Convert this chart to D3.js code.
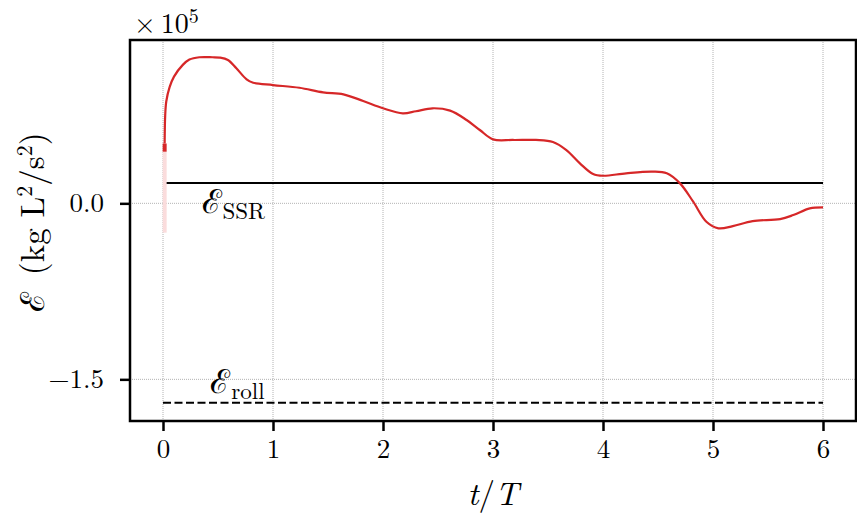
<!DOCTYPE html>
<html>
<head>
<meta charset="utf-8">
<script src="https://cdn.jsdelivr.net/npm/d3@7"></script>
<style>
  body { margin: 0; background: #fff; }
  #chart { width: 857px; height: 522px; }
  text { font-family: 'Latin Modern Roman', 'CMU Serif', 'Liberation Serif', serif; fill: #000; }
</style>
</head>
<body>
<div id="chart"></div>
<script>
// energy E (x1e5) against t/T
var tValues = [0.015, 0.02, 0.03, 0.06, 0.10, 0.18, 0.24, 0.33, 0.45, 0.515, 0.59, 0.667, 0.76, 0.82, 1.0, 1.24, 1.455,
  1.64, 1.82, 2.0, 2.18, 2.3, 2.45, 2.61, 2.76, 2.88, 3.0, 3.18, 3.39, 3.545, 3.667, 3.79, 3.91, 4.0, 4.21, 4.45,
  4.58, 4.70, 4.82, 4.94, 5.05, 5.18, 5.36, 5.61, 5.73, 5.88, 6.0];
var energyValues = [0.51, 0.75, 0.87, 0.99, 1.08, 1.18, 1.225, 1.245, 1.245, 1.242, 1.222, 1.151, 1.057, 1.028, 1.008,
  0.985, 0.946, 0.929, 0.872, 0.81, 0.767, 0.785, 0.81, 0.79, 0.71, 0.625, 0.545, 0.54, 0.54, 0.523, 0.454, 0.341,
  0.25, 0.235, 0.256, 0.27, 0.256, 0.17, 0.014, -0.157, -0.213, -0.194, -0.151, -0.134, -0.1, -0.043, -0.034];

// fast oscillation right at t=0 (drawn as a faint band)
var transientT = 0.015;
var transientRange = [-0.25, 0.44];
var transientTop = [0.44, 0.51];

var eSSR = 0.173;
var eRoll = -1.70;
var tRange = [0, 6];

var xTicks = [0, 1, 2, 3, 4, 5, 6];
var yTicks = [0.0, -1.5];

(function() {
  var width = 857, height = 522;
  var left = 130, right = 856, top = 40, bottom = 421;

  var xScale = d3.scaleLinear().domain([-0.3, 6.3]).range([left, right]);
  var yScale = d3.scaleLinear().domain([-1.855, 1.392]).range([bottom, top]);

  var svg = d3.select('#chart').append('svg')
    .attr('width', width)
    .attr('height', height);

  // grid
  var grid = svg.append('g');
  grid.selectAll('line.gx')
    .data(xTicks)
    .enter()
    .append('line')
    .attr('x1', function(d) {return xScale(d)})
    .attr('x2', function(d) {return xScale(d)})
    .attr('y1', top)
    .attr('y2', bottom)
    .attr('stroke', '#a0a0a0')
    .attr('stroke-width', 0.8)
    .attr('stroke-dasharray', '1,1');
  grid.selectAll('line.gy')
    .data(yTicks)
    .enter()
    .append('line')
    .attr('y1', function(d) {return yScale(d)})
    .attr('y2', function(d) {return yScale(d)})
    .attr('x1', left)
    .attr('x2', right)
    .attr('stroke', '#a0a0a0')
    .attr('stroke-width', 0.8)
    .attr('stroke-dasharray', '1,1');

  // reference levels
  svg.append('line')
    .attr('x1', xScale(tRange[0])).attr('x2', xScale(tRange[1]))
    .attr('y1', yScale(eSSR)).attr('y2', yScale(eSSR))
    .attr('stroke', '#000').attr('stroke-width', 2);
  svg.append('line')
    .attr('x1', xScale(tRange[0])).attr('x2', xScale(tRange[1]))
    .attr('y1', yScale(eRoll)).attr('y2', yScale(eRoll))
    .attr('stroke', '#000').attr('stroke-width', 2)
    .attr('stroke-dasharray', '8,3.5');

  // transient band at t=0
  svg.append('line')
    .attr('x1', xScale(transientT)).attr('x2', xScale(transientT))
    .attr('y1', yScale(transientRange[0])).attr('y2', yScale(transientRange[1]))
    .attr('stroke', '#fadcdc').attr('stroke-width', 4);
  svg.append('line')
    .attr('x1', xScale(transientT)).attr('x2', xScale(transientT))
    .attr('y1', yScale(transientTop[0])).attr('y2', yScale(transientTop[1]))
    .attr('stroke', '#d62728').attr('stroke-width', 4);

  var line = d3.line()
    .x(function(d) {return xScale(d[0])})
    .y(function(d) {return yScale(d[1])})
    .curve(d3.curveCatmullRom.alpha(0.5));

  svg.append('path')
    .datum(tValues.map(function(t, i) {return [t, energyValues[i]]}))
    .attr('d', line)
    .attr('fill', 'none')
    .attr('stroke', '#d62728')
    .attr('stroke-width', 2.2)
    .attr('stroke-linejoin', 'round');

  // annotations
  var ssr = svg.append('text')
    .attr('x', xScale(0.35))
    .attr('y', yScale(-0.08))
    .style('font-size', '33px');
  ssr.append('tspan').text('ℰ');
  ssr.append('tspan').text('SSR').attr('dy', 6).attr('dx', 1).style('font-size', '23px');

  var roll = svg.append('text')
    .attr('x', xScale(0.43))
    .attr('y', yScale(-1.615))
    .style('font-size', '33px');
  roll.append('tspan').text('ℰ');
  roll.append('tspan').text('roll').attr('dy', 6).attr('dx', 1).style('font-size', '23px');

  // axes
  var xAxis = d3.axisBottom(xScale).tickValues(xTicks).tickFormat(d3.format('d')).tickSize(10).tickPadding(8);
  var gx = svg.append('g')
    .attr('transform', 'translate(0, ' + bottom + ')')
    .call(xAxis);
  gx.select('.domain').remove();
  gx.selectAll('.tick line').attr('stroke-width', 2.5);
  gx.selectAll('.tick text').style('font-size', '27px').style('font-family', null);

  var yAxis = d3.axisLeft(yScale).tickValues(yTicks).tickFormat(function(d) {
    return d3.format('.1f')(d).replace('-', '\u2212');
  }).tickSize(10).tickPadding(16);
  var gy = svg.append('g')
    .attr('transform', 'translate(' + left + ', 0)')
    .call(yAxis);
  gy.select('.domain').remove();
  gy.selectAll('.tick line').attr('stroke-width', 2.5);
  gy.selectAll('.tick text').style('font-size', '27px').style('font-family', null);

  // frame
  svg.append('rect')
    .attr('x', left).attr('y', top)
    .attr('width', right - left).attr('height', bottom - top)
    .attr('fill', 'none')
    .attr('stroke', '#000')
    .attr('stroke-width', 2.5);

  // offset text
  var off = svg.append('text')
    .attr('x', 134)
    .attr('y', 33)
    .style('font-size', '28px');
  off.append('tspan').text('\u00d7');
  off.append('tspan').text('10').attr('dx', 5);
  off.append('tspan').text('5').attr('dy', -10).style('font-size', '20px');

  // axis labels
  var xl = svg.append('text')
    .attr('x', (left + right) / 2)
    .attr('y', 505)
    .attr('text-anchor', 'middle')
    .style('font-size', '33px');
  xl.append('tspan').text('t').style('font-style', 'italic');
  xl.append('tspan').text('/');
  xl.append('tspan').text('T').style('font-style', 'italic');

  var yl = svg.append('text')
    .attr('transform', 'translate(44, 222) rotate(-90)')
    .attr('text-anchor', 'middle')
    .style('font-size', '33px');
  yl.append('tspan').text('ℰ');
  yl.append('tspan').text('\u2002(kg L');
  yl.append('tspan').text('2').attr('dy', -12).style('font-size', '22px');
  yl.append('tspan').text('/s').attr('dy', 12);
  yl.append('tspan').text('2').attr('dy', -12).style('font-size', '22px');
  yl.append('tspan').text(')').attr('dy', 12);
})();
</script>
</body>
</html>
